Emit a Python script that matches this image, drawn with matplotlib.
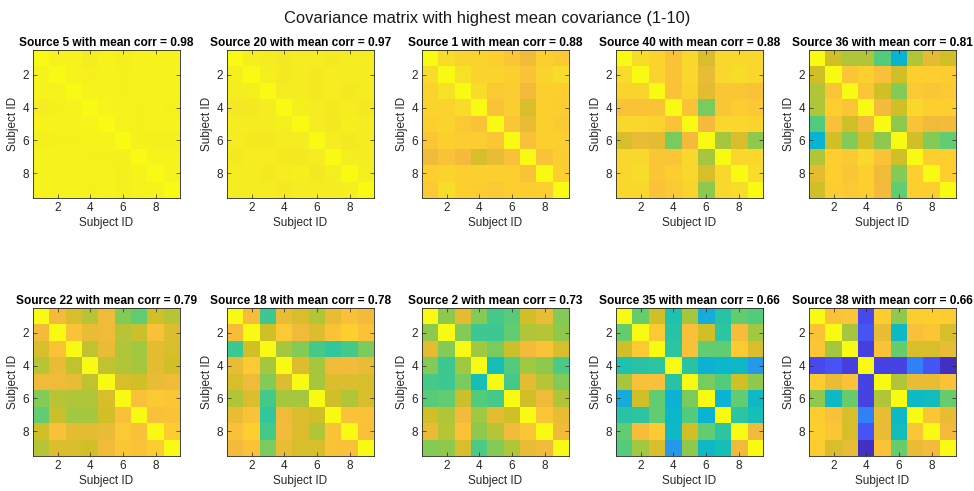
import matplotlib.pyplot as plt
from matplotlib.colors import LinearSegmentedColormap
import numpy as np

plt.rcParams['font.family'] = ['Liberation Sans', 'DejaVu Sans']

# sources shown, ordered by mean correlation
sources = [5, 20, 1, 40, 36, 22, 18, 2, 35, 38]
mean_corr = [0.98, 0.97, 0.88, 0.88, 0.81, 0.79, 0.78, 0.73, 0.66, 0.66]
subject_ticks = [2, 4, 6, 8]

# upper triangle of each 9x9 correlation matrix (row i, columns i+1..9)
src5 = [[0.975, 0.975, 0.96, 0.975, 0.965, 0.975, 0.975, 0.975],
        [0.975, 0.97, 0.975, 0.97, 0.975, 0.975, 0.975],
        [0.975, 0.975, 0.97, 0.975, 0.975, 0.975],
        [0.98, 0.975, 0.97, 0.975, 0.97],
        [0.975, 0.97, 0.975, 0.975],
        [0.97, 0.965, 0.965],
        [0.975, 0.975],
        [0.975]]
src20 = [[0.965, 0.96, 0.95, 0.96, 0.96, 0.955, 0.96, 0.96],
         [0.965, 0.955, 0.96, 0.955, 0.96, 0.96, 0.96],
         [0.96, 0.96, 0.955, 0.96, 0.955, 0.96],
         [0.965, 0.96, 0.955, 0.96, 0.955],
         [0.96, 0.955, 0.965, 0.96],
         [0.96, 0.955, 0.96],
         [0.965, 0.96],
         [0.965]]
src1 = [[0.92, 0.90, 0.90, 0.89, 0.86, 0.81, 0.89, 0.87],
        [0.93, 0.90, 0.90, 0.89, 0.85, 0.90, 0.92],
        [0.92, 0.87, 0.88, 0.82, 0.89, 0.89],
        [0.85, 0.88, 0.77, 0.89, 0.88],
        [0.86, 0.80, 0.89, 0.87],
        [0.84, 0.89, 0.89],
        [0.85, 0.88],
        [0.89]]
src40 = [[0.92, 0.90, 0.85, 0.91, 0.77, 0.91, 0.91, 0.91],
         [0.90, 0.85, 0.91, 0.80, 0.91, 0.92, 0.91],
         [0.85, 0.90, 0.79, 0.86, 0.86, 0.85],
         [0.85, 0.66, 0.86, 0.88, 0.87],
         [0.82, 0.91, 0.91, 0.90],
         [0.71, 0.77, 0.68],
         [0.91, 0.91],
         [0.92]]
src36 = [[0.76, 0.72, 0.72, 0.61, 0.44, 0.72, 0.79, 0.76],
         [0.86, 0.89, 0.84, 0.76, 0.89, 0.89, 0.88],
         [0.86, 0.76, 0.67, 0.87, 0.86, 0.87],
         [0.82, 0.76, 0.91, 0.89, 0.89],
         [0.68, 0.85, 0.81, 0.82],
         [0.76, 0.67, 0.63],
         [0.89, 0.89],
         [0.89]]
src22 = [[0.82, 0.77, 0.73, 0.81, 0.67, 0.63, 0.76, 0.73],
         [0.85, 0.80, 0.81, 0.73, 0.75, 0.84, 0.78],
         [0.74, 0.80, 0.72, 0.70, 0.79, 0.77],
         [0.74, 0.72, 0.71, 0.79, 0.76],
         [0.77, 0.76, 0.80, 0.81],
         [0.84, 0.87, 0.86],
         [0.84, 0.85],
         [0.88]]
src18 = [[0.83, 0.58, 0.80, 0.77, 0.72, 0.80, 0.84, 0.82],
         [0.76, 0.87, 0.81, 0.78, 0.85, 0.89, 0.85],
         [0.71, 0.67, 0.59, 0.56, 0.59, 0.66],
         [0.78, 0.71, 0.81, 0.82, 0.80],
         [0.71, 0.78, 0.78, 0.77],
         [0.76, 0.72, 0.77],
         [0.85, 0.85],
         [0.84]]
src2 = [[0.68, 0.79, 0.67, 0.59, 0.62, 0.76, 0.80, 0.67],
        [0.67, 0.58, 0.58, 0.63, 0.72, 0.73, 0.68],
        [0.70, 0.66, 0.75, 0.82, 0.85, 0.77],
        [0.50, 0.61, 0.70, 0.68, 0.60],
        [0.59, 0.79, 0.73, 0.67],
        [0.76, 0.81, 0.72],
        [0.86, 0.80],
        [0.81]]
src35 = [[0.64, 0.76, 0.52, 0.71, 0.41, 0.54, 0.63, 0.61],
         [0.87, 0.54, 0.84, 0.76, 0.55, 0.83, 0.70],
         [0.55, 0.84, 0.63, 0.63, 0.87, 0.77],
         [0.54, 0.43, 0.46, 0.47, 0.34],
         [0.66, 0.61, 0.76, 0.68],
         [0.44, 0.63, 0.47],
         [0.55, 0.50],
         [0.81]]
src38 = [[0.85, 0.86, 0.12, 0.88, 0.68, 0.88, 0.89, 0.88],
         [0.71, 0.15, 0.80, 0.47, 0.84, 0.86, 0.77],
         [0.09, 0.85, 0.64, 0.77, 0.77, 0.80],
         [0.10, 0.10, 0.27, 0.15, 0.04],
         [0.72, 0.80, 0.80, 0.85],
         [0.47, 0.49, 0.64],
         [0.86, 0.80],
         [0.82]]
upper = [src5, src20, src1, src40, src36, src22, src18, src2, src35, src38]

# MATLAB parula (R2014) sampled
parula = [(0.2422, 0.1504, 0.6603), (0.2706, 0.2147, 0.8364), (0.2813, 0.3006, 0.9414),
          (0.2699, 0.3892, 0.9906), (0.1963, 0.4847, 0.9892), (0.1687, 0.5703, 0.9359),
          (0.1248, 0.6459, 0.8883), (0.0297, 0.7082, 0.8163), (0.0964, 0.7500, 0.7120),
          (0.2161, 0.7843, 0.5923), (0.3909, 0.8029, 0.4354), (0.6174, 0.7876, 0.2612),
          (0.8203, 0.7498, 0.1535), (0.9728, 0.7298, 0.2394), (0.9892, 0.8136, 0.1885),
          (0.9597, 0.9135, 0.1423), (0.9769, 0.9839, 0.0805)]
pos = [i * 4 / 63 for i in range(16)] + [1.0]
cmap = LinearSegmentedColormap.from_list('parula', list(zip(pos, parula)))


def full_matrix(rows):
    m = np.eye(9)
    for i, r in enumerate(rows):
        for k, v in enumerate(r):
            j = i + 1 + k
            m[i, j] = v
            m[j, i] = v
    return m


W, H = 974, 491
fig = plt.figure(figsize=(W / 100, H / 100), dpi=100)
fig.text(0.5, 1 - 18 / H, 'Covariance matrix with highest mean covariance (1-10)',
         ha='center', va='center', fontsize=11.9, color='#1a1a1a')

lefts = [33, 227, 422, 616, 809]
tops = [50, 308]
aw, ah = 147, 148
axc = '#262626'

for n in range(10):
    row, col = divmod(n, 5)
    ax = fig.add_axes([lefts[col] / W, 1 - (tops[row] + ah) / H, aw / W, ah / H])
    m = full_matrix(upper[n])
    ax.imshow(m, cmap=cmap, vmin=0, vmax=1, aspect='auto',
              extent=(0.5, 9.5, 9.5, 0.5), interpolation='nearest')
    ax.set_xticks(subject_ticks)
    ax.set_yticks(subject_ticks)
    ax.tick_params(direction='in', top=True, right=True, length=3, width=0.5,
                   colors=axc, labelsize=8.5, pad=3)
    for s in ax.spines.values():
        s.set_color(axc)
        s.set_linewidth(0.6)
    ax.set_xlabel('Subject ID', fontsize=8.5, color=axc, labelpad=2)
    ax.set_ylabel('Subject ID', fontsize=8.5, color=axc, labelpad=2)
    ax.set_title('Source {} with mean corr = {:.2f}'.format(sources[n], mean_corr[n]),
                 fontsize=8.6, fontweight='bold', pad=3)

plt.savefig('out.png', dpi=100)
